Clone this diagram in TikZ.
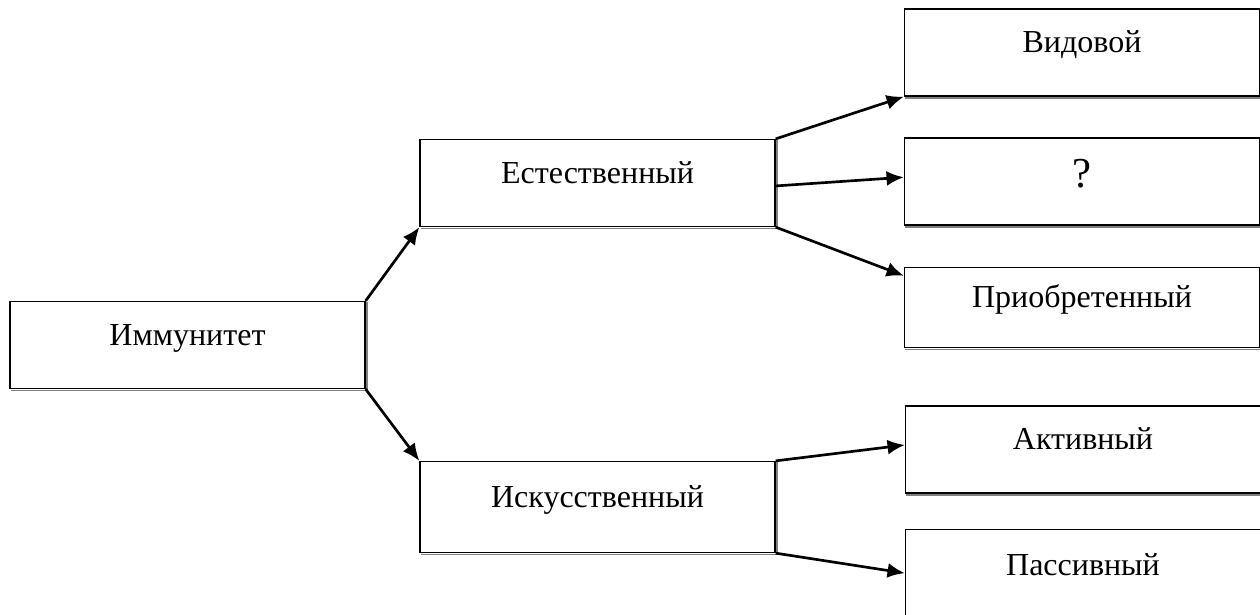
\documentclass[tikz,border=0pt]{standalone}
\usepackage{fontspec}
\setmainfont{Liberation Serif}
\usepackage{tikz}
\usetikzlibrary{arrows.meta}

\begin{document}
\begin{tikzpicture}[x=0.375pt,y=-0.375pt,
        box/.style={draw,line width=0.6pt,minimum width=133pt,minimum height=32.5pt,
            text height=1.4ex,text depth=1.4ex,inner sep=0pt,
            font=\fontsize{12}{14}\selectfont},
        arr/.style={-{Latex[length=6.5pt,width=5.6pt]},line width=1pt}]
        \useasboundingbox (0,0) rectangle (1260,614);
        \clip (0,0) rectangle (1260,614);
        \node[box] (imm) at (187.5,345) {Иммунитет};
        \node[box] (est) at (597.5,183) {Естественный};
        \node[box,minimum height=34pt] (isk) at (597.5,507) {Искусственный};
        \node[box] (vid) at (1082,52.5) {Видовой};
        \node[box,font=\fontsize{16}{18}\selectfont,text height=14.8pt,text depth=10pt] (q) at (1082,181.5) {?};
        \node[box,minimum height=30pt] (pri) at (1082,307.5) {Приобретенный};
        \node[box] (akt) at (1083,449.5) {Активный};
        \node[box,minimum height=34pt] (pas) at (1083,575) {Пассивный};
        % shadow edges
        \foreach \n in {imm,est,isk,vid,q,pri,akt,pas}
            \draw[gray,line width=0.5pt] ([xshift=0.45pt,yshift=-0.45pt]\n.north east)
                -- ([xshift=0.45pt,yshift=-0.45pt]\n.south east)
                -- ([xshift=0.45pt,yshift=-0.45pt]\n.south west);
        \draw[arr] (imm.north east)--(est.south west);
        \draw[arr] (imm.south east)--(isk.north west);
        \draw[arr] (est.north east)--(vid.south west);
        \draw[arr] ([yshift=-1.1pt]est.east)--([yshift=1.6pt]q.west);
        \draw[arr] (est.south east)--([yshift=-3.4pt]pri.north west);
        \draw[arr] (isk.north east)--([yshift=1.7pt]akt.west);
        \draw[arr] (isk.south east)--([yshift=0.7pt]pas.west);
\end{tikzpicture}
\end{document}
